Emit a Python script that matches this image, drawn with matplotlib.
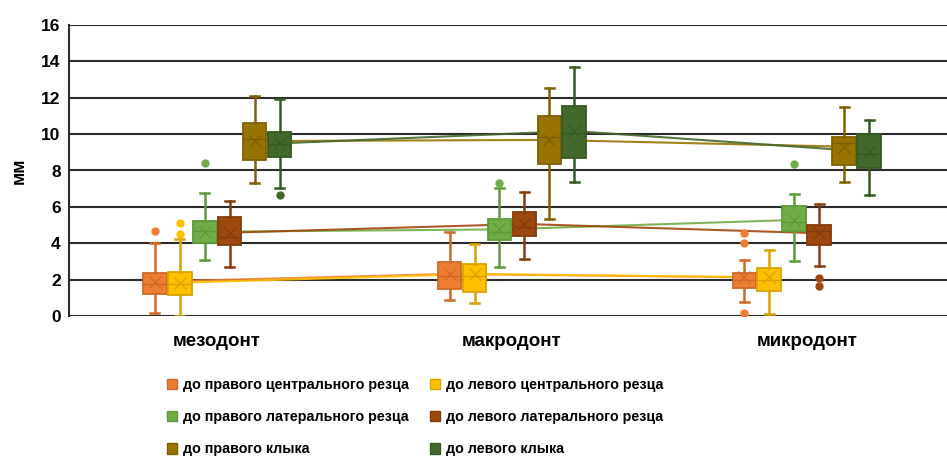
import matplotlib
matplotlib.use("Agg")
import matplotlib.pyplot as plt
from matplotlib.patches import Patch
import numpy as np

categories = ["мезодонт", "макродонт", "микродонт"]
series = ["до правого центрального резца", "до левого центрального резца",
          "до правого латерального резца", "до левого латерального резца",
          "до правого клыка", "до левого клыка"]
fills = ["#ED7D31", "#FFC000", "#70AD47", "#9E480E", "#997300", "#43682B"]
edges = ["#D0682A", "#D9A300", "#5E9A3A", "#843C0C", "#7F6000", "#375A22"]

# rows = series, columns = categories
whislo = [[0.18, 0.88, 0.79], [0.0, 0.70, 0.10], [3.08, 2.71, 3.02],
          [2.71, 3.13, 2.77], [7.33, 5.33, 7.38], [7.02, 7.38, 6.65]]
q1 = [[1.21, 1.47, 1.52], [1.15, 1.34, 1.39], [4.00, 4.18, 4.67],
      [3.90, 4.42, 3.90], [8.58, 8.36, 8.30], [8.76, 8.67, 8.12]]
med = [[1.78, 2.20, 1.98], [1.78, 2.20, 1.98], [4.66, 4.60, 5.18],
       [4.36, 4.91, 4.67], [9.71, 9.86, 9.49], [9.46, 10.04, 8.91]]
q3 = [[2.38, 2.99, 2.35], [2.44, 2.84, 2.62], [5.22, 5.32, 6.05],
      [5.46, 5.70, 5.00], [10.59, 10.99, 9.82], [10.13, 11.54, 9.99]]
whishi = [[4.03, 4.63, 3.08], [4.21, 3.94, 3.63], [6.74, 7.02, 6.71],
          [6.34, 6.84, 6.16], [12.11, 12.55, 11.51], [11.93, 13.71, 10.77]]
means = [[1.89, 2.31, 2.13], [1.83, 2.31, 2.13], [4.63, 4.76, 5.28],
         [4.58, 5.06, 4.55], [9.62, 9.68, 9.31], [9.49, 10.17, 9.03]]
outliers = [[[4.69], [], [0.18, 4.0, 4.55]],
            [[5.13, 4.49], [], []],
            [[8.43], [7.33], [8.37]],
            [[], [], [2.11, 1.67]],
            [[], [], []],
            [[6.65], [], []]]
yticks = [0, 2, 4, 6, 8, 10, 12, 14, 16]

W, H = 947, 461
fig = plt.figure(figsize=(W / 100, H / 100), dpi=100)
left_px, right_px, top_px, bot_px = 69, 947, 25, 316
ax = fig.add_axes([left_px / W, 1 - bot_px / H, (right_px - left_px) / W, (bot_px - top_px) / H])

FAM = ["Liberation Sans", "DejaVu Sans"]
step = 0.0847
bw = 0.081
nser = len(series)
for s in range(nser):
    stats = []
    pos = []
    for g in range(len(categories)):
        stats.append(dict(whislo=whislo[s][g], q1=q1[s][g], med=med[s][g], q3=q3[s][g],
                          whishi=whishi[s][g], fliers=outliers[s][g], mean=means[s][g]))
        pos.append(g + (s - (nser - 1) / 2) * step)
    ax.bxp(stats, positions=pos, widths=bw, patch_artist=True, showmeans=True,
           boxprops=dict(facecolor=fills[s], edgecolor=edges[s], linewidth=1.3),
           medianprops=dict(color=edges[s], linewidth=1.0),
           whiskerprops=dict(color=edges[s], linewidth=1.8),
           capprops=dict(color=edges[s], linewidth=1.8),
           capwidths=0.03,
           meanprops=dict(marker="x", markeredgecolor=edges[s], markersize=8, markeredgewidth=0.9),
           flierprops=dict(marker="o", markerfacecolor=fills[s], markeredgecolor=fills[s], markersize=5),
           manage_ticks=False, zorder=3)
    ax.plot(pos, means[s], color=fills[s], linewidth=1.5, zorder=2.5, alpha=0.9)

ax.set_xlim(-0.502, 2.475)
ax.set_ylim(0, 16)
ax.set_yticks(yticks)
ax.set_yticklabels([str(v) for v in yticks], fontsize=12.5, fontweight="bold", family=FAM)
ax.set_xticks(range(len(categories)))
ax.set_xticklabels(categories, fontsize=13.5, fontweight="bold", family=FAM)
ax.tick_params(axis="both", length=0, pad=6)
ax.tick_params(axis="x", pad=12)
ax.grid(axis="y", color="#2b2b2b", linewidth=1.5, zorder=0)
ax.set_axisbelow(True)
for sp in ["top", "right", "bottom"]:
    ax.spines[sp].set_visible(False)
ax.spines["left"].set_color("#2b2b2b")
ax.spines["left"].set_linewidth(1.5)
ax.set_ylabel("мм", fontsize=13, fontweight="bold", family=FAM, labelpad=10)

order = [0, 2, 4, 1, 3, 5]
handles = [Patch(facecolor=fills[i], edgecolor=edges[i]) for i in order]
labels = [series[i] for i in order]
leg = fig.legend(handles, labels, ncol=2, loc="upper left", bbox_to_anchor=(154 / W, 1 - 365 / H),
                 frameon=False, prop=dict(family=FAM, weight="bold", size=10.3),
                 handlelength=0.72, handleheight=0.72, handletextpad=0.38, columnspacing=1.5,
                 labelspacing=1.28)

fig.savefig("out.png", dpi=100)
